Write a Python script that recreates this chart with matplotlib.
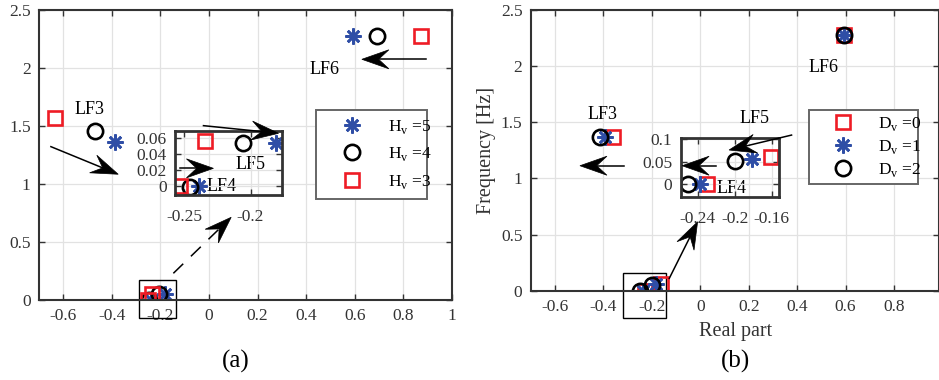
import numpy as np
import matplotlib
matplotlib.use("Agg")
import matplotlib.pyplot as plt
from matplotlib.lines import Line2D
from matplotlib.patches import Polygon, Rectangle

plt.rcParams["font.family"] = "serif"
plt.rcParams["font.serif"] = ["Liberation Serif", "DejaVu Serif"]
plt.rcParams["mathtext.fontset"] = "custom"
plt.rcParams["mathtext.rm"] = "Liberation Serif"
plt.rcParams["axes.unicode_minus"] = False

# Eigenvalues of modes LF3, LF6, LF4, LF5 (real part, frequency in Hz)
# (a) varying inertia Hv
hv5_re = [-0.387, 0.591, -0.239, -0.181]
hv5_im = [1.365, 2.280, 0.000, 0.054]
hv4_re = [-0.471, 0.691, -0.246, -0.206]
hv4_im = [1.457, 2.280, -0.002, 0.054]
hv3_re = [-0.633, 0.871, -0.253, -0.234]
hv3_im = [1.566, 2.280, 0.000, 0.056]

# (b) varying damping Dv
dv0_re = [-0.362, 0.594, -0.230, -0.161]
dv0_im = [1.369, 2.277, 0.000, 0.060]
dv1_re = [-0.393, 0.594, -0.238, -0.181]
dv1_im = [1.369, 2.277, 0.000, 0.0565]
dv2_re = [-0.414, 0.594, -0.251, -0.200]
dv2_im = [1.369, 2.277, 0.000, 0.051]

x_ticks_a = [-0.6, -0.4, -0.2, 0, 0.2, 0.4, 0.6, 0.8, 1]
x_ticks_b = [-0.6, -0.4, -0.2, 0, 0.2, 0.4, 0.6, 0.8]
y_ticks = [0, 0.5, 1, 1.5, 2, 2.5]

BLUE = "#2f4ea6"
RED = "#ee1c25"
DARK = "#333333"
FS = 12.5

star = dict(marker=(8, 2, 0), ms=11.5, mew=1.9, color=BLUE, ls="none")
circ = dict(marker="o", ms=11, mew=1.9, mfc="none", mec="black", ls="none")
sq = dict(marker="s", ms=9.5, mew=1.9, mfc="none", mec=RED, ls="none")


def style_axes(ax, lw=1.5):
    ax.tick_params(direction="in", top=True, right=True, length=4, width=1,
                   color=DARK, labelcolor=DARK, labelsize=FS)
    ax.grid(True, color="#e2e2e2", lw=0.9)
    ax.set_axisbelow(True)
    for s in ax.spines.values():
        s.set_color(DARK)
        s.set_linewidth(lw)
    ax.xaxis.set_major_formatter(plt.FormatStrFormatter("%g"))
    ax.yaxis.set_major_formatter(plt.FormatStrFormatter("%g"))


def draw_arrow(fig, ax, p0, p1, dashed=False, hl=27, hw=19):
    """Thin shaft with a barbed filled head, built in pixel space."""
    a = ax.transData.transform(p0)
    b = ax.transData.transform(p1)
    u = (b - a) / np.hypot(*(b - a))
    n = np.array([-u[1], u[0]])
    back = b - u * hl
    notch = b - u * hl * 0.62
    inv = fig.transFigure.inverted()
    ls = (0, (9, 7)) if dashed else "-"
    xs, ys = inv.transform(np.array([a, notch])).T
    fig.add_artist(Line2D(xs, ys, color="black", lw=1.1, ls=ls,
                          transform=fig.transFigure))
    head = np.array([b, back + n * hw / 2, notch, back - n * hw / 2])
    fig.add_artist(Polygon(inv.transform(head), closed=True, fc="black",
                           ec="black", lw=0.5, transform=fig.transFigure))


W, H = 939, 380


def px_axes(fig, x0, y0, x1, y1):
    # pixel box (top-left origin) -> figure axes
    return fig.add_axes([x0 / W, 1 - y1 / H, (x1 - x0) / W, (y1 - y0) / H])


fig = plt.figure(figsize=(W / 100, H / 100), dpi=100)

# ---------------- (a) ----------------
ax1 = px_axes(fig, 39, 10, 452, 300)
ax1.set_xlim(-0.7, 1.0)
ax1.set_ylim(0, 2.5)
ax1.set_xticks(x_ticks_a)
ax1.set_yticks(y_ticks)
style_axes(ax1)
ax1.tick_params(pad=6)

ax1.plot(hv5_re, hv5_im, label=r"H$_{\mathrm{v}}$ =5", **star)
ax1.plot(hv4_re, hv4_im, label=r"H$_{\mathrm{v}}$ =4", **circ)
ax1.plot(hv3_re, hv3_im, label=r"H$_{\mathrm{v}}$ =3", **sq)

ax1.add_patch(Rectangle((-0.287, -0.155), 0.150, 0.325, fill=False,
                        ec="black", lw=1.0, clip_on=False))

leg1 = ax1.legend(loc="upper left", bbox_to_anchor=(316 / W, 1 - 113.7 / H, 111 / W, 0.01),
                  bbox_transform=fig.transFigure, mode="expand", fontsize=FS,
                  borderaxespad=0, borderpad=0.45, handlelength=3.3,
                  handletextpad=0.4, labelspacing=0.55, fancybox=False,
                  framealpha=1)
leg1.get_frame().set_edgecolor("#666666")
leg1.get_frame().set_linewidth(1.4)

ins1 = px_axes(fig, 175, 130.7, 282.3, 194.7)
ins1.set_facecolor("none")
ins1.set_xlim(-0.257, -0.176)
ins1.set_ylim(-0.0113, 0.0688)
ins1.set_xticks([-0.25, -0.2])
ins1.set_yticks([0, 0.02, 0.04, 0.06])
style_axes(ins1, lw=2)
ins1.tick_params(axis="x", pad=10)
ins1.tick_params(axis="y", pad=6)
ins1.plot(hv5_re[2:], hv5_im[2:], **star)
ins1.plot(hv4_re[2:], hv4_im[2:], **circ)
ins1.plot(hv3_re[2:], hv3_im[2:], **sq)

labels_a = [("LF3", -0.493, 1.638), ("LF6", 0.475, 1.99),
            ("LF5", 0.169, 1.164), ("LF4", 0.053, 0.98)]
for t, x, y in labels_a:
    ax1.text(x, y, t, fontsize=FS + 0.5, ha="center", va="center", zorder=5)

draw_arrow(fig, ax1, (0.893, 2.075), (0.629, 2.075))
draw_arrow(fig, ax1, (-0.651, 1.322), (-0.374, 1.084))
draw_arrow(fig, ax1, (-0.023, 1.503), (0.286, 1.437))
draw_arrow(fig, ax1, (-0.119, 1.135), (0.018, 1.135))
draw_arrow(fig, ax1, (-0.147, 0.23), (0.091, 0.713), dashed=True)

# ---------------- (b) ----------------
ax2 = px_axes(fig, 530.8, 10, 938.5, 290.7)
ax2.set_xlim(-0.7, 0.984)
ax2.set_ylim(0, 2.5)
ax2.set_xticks(x_ticks_b)
ax2.set_yticks(y_ticks)
style_axes(ax2)
ax2.tick_params(pad=6)

ax2.plot(dv0_re, dv0_im, label=r"D$_{\mathrm{v}}$ =0", **sq)
ax2.plot(dv1_re, dv1_im, label=r"D$_{\mathrm{v}}$ =1", **star)
ax2.plot(dv2_re, dv2_im, label=r"D$_{\mathrm{v}}$ =2", **circ)

ax2.add_patch(Rectangle((-0.32, -0.243), 0.18, 0.398, fill=False,
                        ec="black", lw=1.0, clip_on=False))

leg2 = ax2.legend(loc="upper left", bbox_to_anchor=(809 / W, 1 - 113.7 / H, 108.7 / W, 0.01),
                  bbox_transform=fig.transFigure, mode="expand", fontsize=FS,
                  borderaxespad=0, borderpad=0.3, handlelength=3.3,
                  handletextpad=0.4, labelspacing=0.28, fancybox=False,
                  framealpha=1)
leg2.get_frame().set_edgecolor("#666666")
leg2.get_frame().set_linewidth(1.4)

ins2 = px_axes(fig, 680.7, 137.7, 779.3, 197)
ins2.set_facecolor("none")
ins2.set_xlim(-0.2584, -0.1518)
ins2.set_ylim(-0.028, 0.103)
ins2.set_xticks([-0.24, -0.2, -0.16])
ins2.set_yticks([0, 0.05, 0.1])
style_axes(ins2, lw=2)
ins2.tick_params(axis="x", pad=10)
ins2.tick_params(axis="y", pad=6)
ins2.plot(dv0_re[2:], dv0_im[2:], **sq)
ins2.plot(dv1_re[2:], dv1_im[2:], **star)
ins2.plot(dv2_re[2:], dv2_im[2:], **circ)

labels_b = [("LF3", -0.405, 1.565), ("LF6", 0.511, 1.99),
            ("LF5", 0.222, 1.535), ("LF4", 0.13, 0.912)]
for t, x, y in labels_b:
    ax2.text(x, y, t, fontsize=FS + 0.5, ha="center", va="center", zorder=5)

draw_arrow(fig, ax2, (0.377, 1.386), (0.119, 1.253))
draw_arrow(fig, ax2, (0.064, 1.113), (-0.075, 1.113))
draw_arrow(fig, ax2, (-0.314, 1.113), (-0.497, 1.113))
draw_arrow(fig, ax2, (-0.128, 0.11), (-0.011, 0.614))

ax2.set_xlabel("Real part", fontsize=14.5, color=DARK)
ax2.xaxis.set_label_coords(0.502, -0.11)
fig.text(486.7 / W, 1 - 150 / H, "Frequency [Hz]", rotation=90, fontsize=14.5,
         color=DARK, ha="center", va="center")

fig.text(236 / W, 1 - 361.7 / H, "(a)", fontsize=18, ha="center", va="center")
fig.text(735 / W, 1 - 361.7 / H, "(b)", fontsize=18, ha="center", va="center")

fig.savefig("out.png", dpi=100)
